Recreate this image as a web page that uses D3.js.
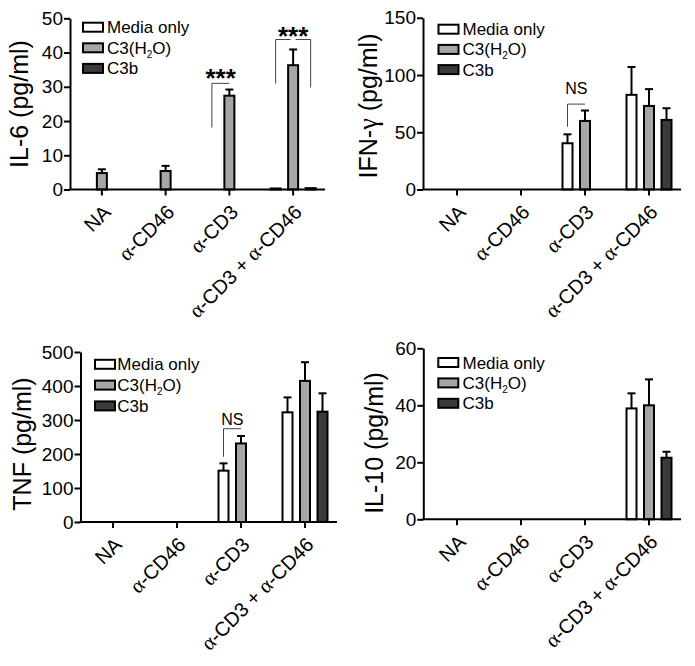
<!DOCTYPE html>
<html><head><meta charset="utf-8">
<script src="https://cdn.jsdelivr.net/npm/d3@7"></script>
<style>body{margin:0;background:#fff} svg{display:block}</style>
</head><body>
<svg id="c" width="695" height="666"></svg>
<script>
// ---------- DATA ----------
const categories = ["NA", "α-CD46", "α-CD3", "α-CD3 + α-CD46"];
const seriesNames = ["Media only", "C3(H2O)", "C3b"];

const il6Media   = [0, 0, 0, 0.3];
const il6C3      = [4.8, 5.4, 27.4, 36.3];
const il6C3b     = [0, 0, 0, 0.4];
const il6MediaErr = [0, 0, 0, 0];
const il6C3Err    = [1.1, 1.5, 1.8, 4.6];
const il6C3bErr   = [0, 0, 0, 0];
const il6Ticks = [0, 10, 20, 30, 40, 50];

const ifnMedia   = [0, 0, 40.4, 82.7];
const ifnC3      = [0, 0, 59.9, 73.0];
const ifnC3b     = [0, 0, 0, 60.8];
const ifnMediaErr = [0, 0, 7.8, 24.3];
const ifnC3Err    = [0, 0, 9.1, 14.7];
const ifnC3bErr   = [0, 0, 0, 10.2];
const ifnTicks = [0, 50, 100, 150];

const tnfMedia   = [0, 0, 151, 322.5];
const tnfC3      = [0, 0, 231, 415];
const tnfC3b     = [0, 0, 0, 324.5];
const tnfMediaErr = [0, 0, 21.5, 44];
const tnfC3Err    = [0, 0, 22, 55];
const tnfC3bErr   = [0, 0, 0, 54];
const tnfTicks = [0, 100, 200, 300, 400, 500];

const il10Media   = [0, 0, 0, 38.9];
const il10C3      = [0, 0, 0, 40.0];
const il10C3b     = [0, 0, 0, 21.6];
const il10MediaErr = [0, 0, 0, 5.3];
const il10C3Err    = [0, 0, 0, 9.1];
const il10C3bErr   = [0, 0, 0, 2.1];
const il10Ticks = [0, 20, 40, 60];

// significance brackets (values in data units)
const il6Brackets = [
  {cat: "α-CD3", from: 0, to: 1, leftLow: 18.1, top: 31.0, rightLow: null, label: "***", labelAt: 29.8, gap: false},
  {cat: "α-CD3 + α-CD46", from: 0, to: 2, leftLow: 31.0, top: 43.8, rightLow: 29.8, label: "***", labelAt: 42.3, gap: true}
];
const ifnBrackets = [
  {cat: "α-CD3", from: 0, to: 1, leftLow: 54.9, top: 74.6, rightLow: null, label: "NS", labelAt: 83.3, gap: false}
];
const tnfBrackets = [
  {cat: "α-CD3", from: 0, to: 1, leftLow: 192, top: 274.4, rightLow: null, label: "NS", labelAt: 285, gap: false}
];

// ---------- STYLE / LAYOUT ----------
const colors = ["#ffffff", "#a6a6a6", "#3a3a3a"];
const SANS = "'Liberation Sans', Arial, Helvetica, sans-serif";
const SERIF = "'Liberation Serif', 'Times New Roman', serif";

const panels = [
  {title: "IL-6 (pg/ml)", vals: [il6Media, il6C3, il6C3b], errs: [il6MediaErr, il6C3Err, il6C3bErr], ticks: il6Ticks, brackets: il6Brackets,
   axisX: 70, xRange: [70, 325], yRange: [189.5, 18.3], titleX: 28, titleY: 104, legX: 82, legTextX: 107, legY: 27.2, legStep: 20.6},
  {title: "IFN-γ (pg/ml)", vals: [ifnMedia, ifnC3, ifnC3b], errs: [ifnMediaErr, ifnC3Err, ifnC3bErr], ticks: ifnTicks, brackets: ifnBrackets,
   axisX: 423, xRange: [425, 681], yRange: [189.5, 17.8], titleX: 377, titleY: 106, legX: 437.5, legTextX: 462.5, legY: 29.2, legStep: 20.2},
  {title: "TNF (pg/ml)", vals: [tnfMedia, tnfC3, tnfC3b], errs: [tnfMediaErr, tnfC3Err, tnfC3bErr], ticks: tnfTicks, brackets: tnfBrackets,
   axisX: 80.5, xRange: [81, 337], yRange: [522, 352], titleX: 31, titleY: 444, legX: 94, legTextX: 117.3, legY: 364.3, legStep: 20.8},
  {title: "IL-10 (pg/ml)", vals: [il10Media, il10C3, il10C3b], errs: [il10MediaErr, il10C3Err, il10C3bErr], ticks: il10Ticks, brackets: [],
   axisX: 423.3, xRange: [425, 681], yRange: [519.3, 348.3], titleX: 383, titleY: 443, legX: 437.3, legTextX: 462.5, legY: 362.5, legStep: 20.4}
];

const svg = d3.select("#c");

function richText(sel, str) {
  str.split(/([αγ])/).filter(s => s.length).forEach(part => {
    const t = sel.append("tspan").text(part);
    if (/[αγ]/.test(part)) t.attr("font-family", SERIF).attr("font-size", "1.05em");
  });
}

function drawPanel(p) {
  const g = svg.append("g");
  const x = d3.scaleBand().domain(categories).range(p.xRange).padding(0);
  const xs = d3.scaleBand().domain(seriesNames).range([-22.5, 22.5]).paddingInner(0.4286);
  const y = d3.scaleLinear().domain([0, d3.max(p.ticks)]).range(p.yRange);
  const cx = (ci, si) => x(categories[ci]) + x.bandwidth() / 2 + xs(seriesNames[si]) + xs.bandwidth() / 2;

  // bars
  seriesNames.forEach((s, si) => {
    categories.forEach((c, ci) => {
      const v = p.vals[si][ci];
      if (!(v > 0)) return;
      const e = p.errs[si][ci];
      const bx = cx(ci, si);
      if (e > 0) {
        g.append("line").attr("x1", bx).attr("x2", bx).attr("y1", y(v)).attr("y2", y(v + e))
          .attr("stroke", "#000").attr("stroke-width", 2);
        g.append("line").attr("x1", bx - 4).attr("x2", bx + 4).attr("y1", y(v + e)).attr("y2", y(v + e))
          .attr("stroke", "#000").attr("stroke-width", 2);
      }
      g.append("rect").attr("x", bx - xs.bandwidth() / 2).attr("y", y(v))
        .attr("width", xs.bandwidth()).attr("height", y(0) - y(v))
        .attr("fill", colors[si]).attr("stroke", "#000").attr("stroke-width", 2);
    });
  });

  // y axis
  const ya = g.append("g").attr("transform", `translate(${p.axisX},0)`)
    .call(d3.axisLeft(y).tickValues(p.ticks).tickSize(6).tickSizeOuter(0).tickPadding(1));
  ya.select(".domain").attr("stroke-width", 2);
  ya.selectAll(".tick line").attr("stroke-width", 2);
  ya.selectAll(".tick text").attr("font-family", SANS).attr("font-size", 19).attr("fill", "#000");

  // x axis
  const xa = g.append("g").attr("transform", `translate(0,${p.yRange[0]})`)
    .call(d3.axisBottom(x).tickSize(6).tickSizeOuter(0).tickFormat(() => ""));
  xa.select(".domain").remove();
  xa.selectAll(".tick line").attr("stroke-width", 2);
  g.append("line").attr("x1", p.axisX - 1).attr("x2", p.xRange[1]).attr("y1", p.yRange[0]).attr("y2", p.yRange[0])
    .attr("stroke", "#000").attr("stroke-width", 2);

  categories.forEach(c => {
    const t = g.append("text")
      .attr("transform", `translate(${x(c) + x.bandwidth() / 2 + 5},${p.yRange[0] + 19}) rotate(-45)`)
      .attr("text-anchor", "end").attr("dy", "0.35em")
      .attr("font-family", SANS).attr("font-size", 20).attr("fill", "#000");
    richText(t, c);
  });

  // y title
  const tt = g.append("text")
    .attr("transform", `translate(${p.titleX},${p.titleY}) rotate(-90)`)
    .attr("text-anchor", "middle").attr("font-family", SANS).attr("font-size", 25).attr("fill", "#000");
  richText(tt, p.title);

  // legend
  seriesNames.forEach((s, si) => {
    const ly = p.legY + si * p.legStep;
    g.append("rect").attr("x", p.legX + 1).attr("y", ly - 4.5).attr("width", 20).attr("height", 9)
      .attr("fill", colors[si]).attr("stroke", "#000").attr("stroke-width", 2);
    const t = g.append("text").attr("x", p.legTextX).attr("y", ly + 6)
      .attr("font-family", SANS).attr("font-size", 17).attr("fill", "#000");
    if (s === "C3(H2O)") {
      t.append("tspan").text("C3(H");
      t.append("tspan").text("2").attr("font-size", 10).attr("dy", 4);
      t.append("tspan").text("O)").attr("dy", -4);
    } else t.text(s);
  });

  // significance brackets
  p.brackets.forEach(b => {
    const ci = categories.indexOf(b.cat);
    const x1 = cx(ci, b.from), x2 = cx(ci, b.to);
    const yt = y(b.top);
    const line = (pts) => g.append("path").attr("d", d3.line()(pts))
      .attr("stroke", "#444").attr("stroke-width", 1).attr("fill", "none");
    const mid = (x1 + x2) / 2;
    if (b.gap) {
      line([[x1, y(b.leftLow)], [x1, yt], [mid - 2.5, yt]]);
      line([[mid + 2.5, yt], [x2, yt], [x2, y(b.rightLow)]]);
    } else {
      const pts = [[x1, y(b.leftLow)], [x1, yt], [x2, yt]];
      if (b.rightLow != null) pts.push([x2, y(b.rightLow)]);
      line(pts);
    }
    const isStar = b.label === "***";
    g.append("text").attr("x", mid).attr("y", y(b.labelAt))
      .attr("text-anchor", "middle").attr("font-family", SANS)
      .attr("font-size", isStar ? 26 : 16).attr("font-weight", isStar ? "bold" : "normal")
      .attr("fill", "#000").text(b.label);
  });
}

panels.forEach(drawPanel);
</script>
</body></html>
